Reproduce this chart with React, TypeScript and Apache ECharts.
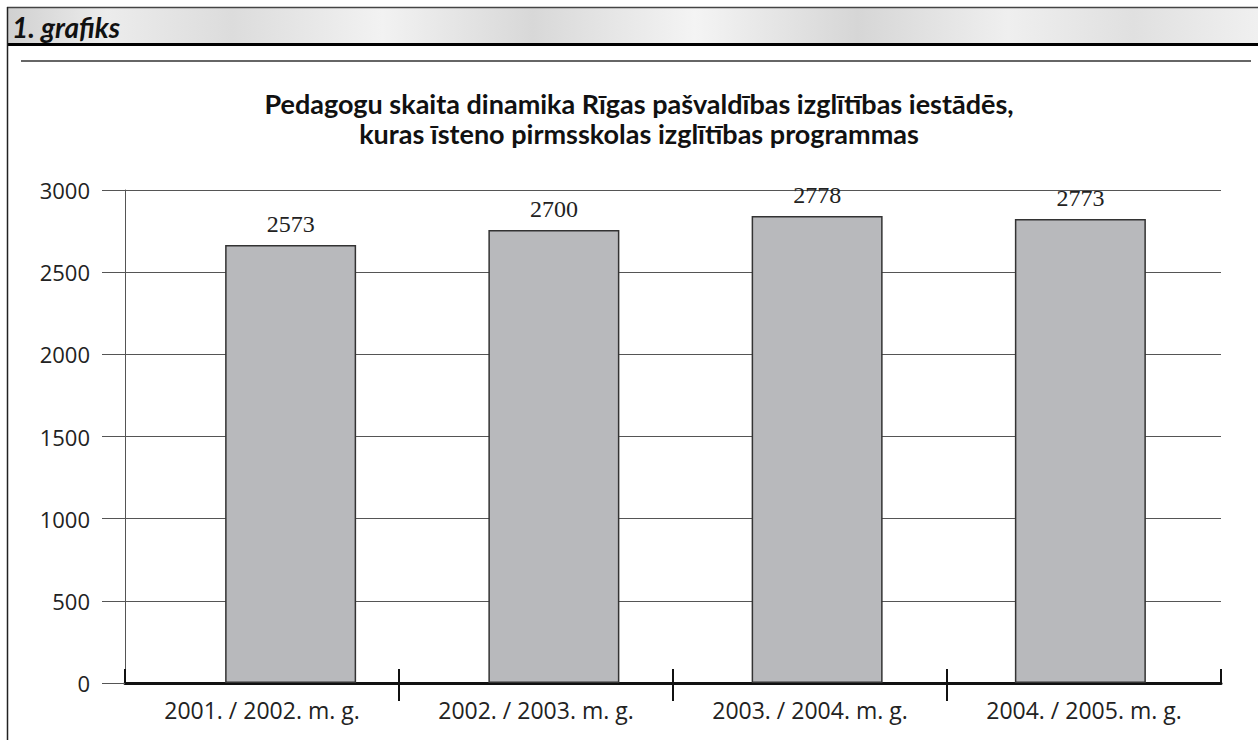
import React, { useEffect, useRef } from "react";
import * as echarts from "echarts";

const categories = [
  "2001. / 2002. m. g.",
  "2002. / 2003. m. g.",
  "2003. / 2004. m. g.",
  "2004. / 2005. m. g.",
];
// bar heights as drawn in the picture
const barHeights = [2665, 2757, 2842, 2824];
// value labels printed above the bars
const valueLabels = ["2573", "2700", "2778", "2773"];
const yTicks = [0, 500, 1000, 1500, 2000, 2500, 3000];

const title =
  "Pedagogu skaita dinamika Rīgas pašvaldības izglītības iestādēs,\nkuras īsteno pirmsskolas izglītības programmas";

export default function App() {
  const ref = useRef<HTMLDivElement>(null);
  useEffect(() => {
    if (!ref.current) return;
    const chart = echarts.init(ref.current, null, { renderer: "svg" });
    const yMax = yTicks[yTicks.length - 1];
    const yInterval = yTicks[1] - yTicks[0];
    const option: any = {
      animation: false,
      backgroundColor: "#ffffff",
      title: {
        text: title,
        left: 634,
        textAlign: "center",
        top: 83,
        padding: 5,
        textStyle: {
          fontFamily: "Lato",
          fontWeight: "bold",
          fontSize: 27,
          lineHeight: 30,
          color: "#111",
        },
      },
      graphic: [
        {
          type: "rect",
          shape: { x: 7, y: 8, width: 1251, height: 37 },
          style: {
            fill: new echarts.graphic.LinearGradient(0, 0, 1, 0, [
              { offset: 0, color: "#d0d0d0" },
              { offset: 0.08, color: "#ececec" },
              { offset: 0.18, color: "#dcdcdc" },
              { offset: 0.3, color: "#f2f2f2" },
              { offset: 0.42, color: "#d8d8d8" },
              { offset: 0.55, color: "#f4f4f4" },
              { offset: 0.68, color: "#d6d6d6" },
              { offset: 0.8, color: "#efefef" },
              { offset: 0.9, color: "#e0e0e0" },
              { offset: 1, color: "#f0f0f0" },
            ]),
          },
          z: -10,
        },
        {
          type: "line",
          shape: { x1: 7, y1: 7.5, x2: 1258, y2: 7.5 },
          style: { stroke: "#444", lineWidth: 1.5 },
        },
        {
          type: "line",
          shape: { x1: 7, y1: 44.5, x2: 1258, y2: 44.5 },
          style: { stroke: "#000", lineWidth: 3 },
        },
        {
          type: "line",
          shape: { x1: 7.5, y1: 7, x2: 7.5, y2: 740 },
          style: { stroke: "#222", lineWidth: 1.5 },
        },
        {
          type: "line",
          shape: { x1: 21, y1: 61, x2: 1251, y2: 61 },
          style: { stroke: "#333", lineWidth: 1.5 },
        },
        {
          type: "text",
          x: 12,
          y: 27,
          style: {
            text: "1. grafiks",
            fontFamily: "Lato",
            fontWeight: "bold",
            fontStyle: "italic",
            fontSize: 28,
            fill: "#111",
            textVerticalAlign: "middle",
          },
        },
      ],
      grid: [
        { left: 159, right: 46, top: 190, bottom: 57 },
        { left: 125, right: 37, top: 190, bottom: 57 },
      ],
      xAxis: [
        {
          type: "category",
          gridIndex: 0,
          data: categories,
          show: false,
        },
        {
          type: "category",
          gridIndex: 1,
          data: categories,
          position: "bottom",
          boundaryGap: true,
          axisLine: { show: true, lineStyle: { color: "#111", width: 3 } },
          axisTick: {
            show: true,
            inside: true,
            length: 14,
            interval: 0,
            lineStyle: { color: "#111", width: 2 },
          },
          axisLabel: {
            interval: 0,
            margin: 15,
            fontFamily: "Open Sans",
            fontSize: 23,
            color: "#222",
          },
          splitLine: { show: false },
        },
        {
          type: "value",
          gridIndex: 1,
          position: "bottom",
          min: 0,
          max: categories.length,
          interval: 1,
          axisLine: { show: false },
          axisLabel: { show: false },
          splitLine: { show: false },
          axisTick: {
            show: true,
            length: 18,
            customValues: [1, 2, 3],
            lineStyle: { color: "#111", width: 2 },
          },
        },
      ],
      yAxis: [
        {
          type: "value",
          gridIndex: 0,
          min: 0,
          max: yMax,
          interval: yInterval,
          show: false,
          splitLine: { show: false },
        },
        {
          type: "value",
          gridIndex: 1,
          min: 0,
          max: yMax,
          interval: yInterval,
          axisLine: { show: true, lineStyle: { color: "#555", width: 1 } },
          axisTick: {
            show: true,
            length: 23,
            lineStyle: { color: "#555", width: 1 },
          },
          axisLabel: {
            margin: 35,
            fontFamily: "Open Sans",
            fontSize: 22,
            color: "#222",
            formatter: (v: number) => String(v),
          },
          splitLine: { show: true, lineStyle: { color: "#555", width: 1 } },
        },
      ],
      series: [
        {
          type: "bar",
          xAxisIndex: 0,
          yAxisIndex: 0,
          data: barHeights,
          barWidth: 131,
          itemStyle: {
            color: "#b8b9bc",
            borderColor: "#333",
            borderWidth: 1.5,
          },
          label: {
            show: true,
            position: "top",
            distance: 9,
            formatter: (p: any) => valueLabels[p.dataIndex],
            fontFamily: "Liberation Serif",
            fontSize: 24,
            color: "#222",
          },
          z: 5,
        },
      ],
    };
    chart.setOption(option);
    return () => chart.dispose();
  }, []);
  return (
    <div
      ref={ref}
      style={{ position: "absolute", left: 0, top: 0, width: 1258, height: 740 }}
    />
  );
}
